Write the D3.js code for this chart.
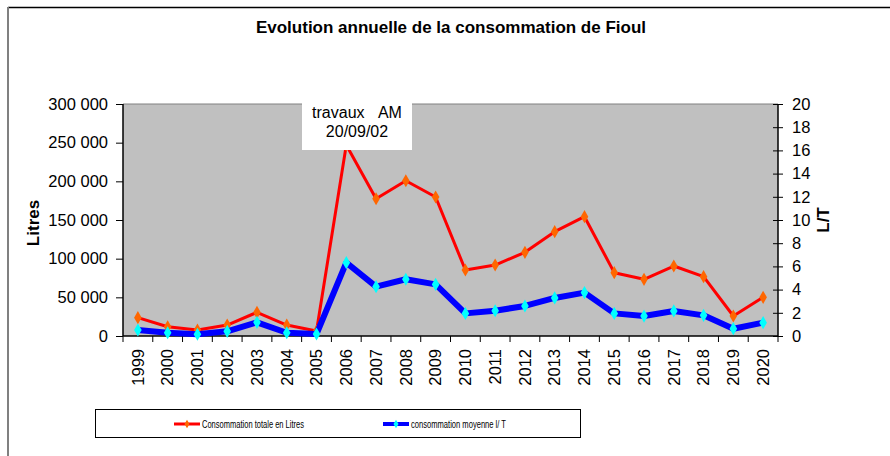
<!DOCTYPE html>
<html lang="fr">
<head>
<meta charset="UTF-8">
<title>Evolution annuelle de la consommation de Fioul</title>
<script src="https://d3js.org/d3.v7.min.js"></script>
<style>
    body { margin: 0; padding: 0; background: #fff; }
    svg { display: block; font-family: "Liberation Sans", Arial, sans-serif; }
    .tick-label { font-size: 16.5px; fill: #000; }
</style>
</head>
<body>
<svg width="890" height="456"></svg>
<script>
    // data
    const years = ["1999","2000","2001","2002","2003","2004","2005","2006","2007","2008","2009",
                   "2010","2011","2012","2013","2014","2015","2016","2017","2018","2019","2020"];
    const totalLitres = [23700, 12000, 7800, 14200, 30600, 14200, 6500, 247000, 177500, 200800, 179700,
                         85300, 91800, 108200, 134900, 154300, 81900, 73300, 90500, 76700, 25900, 50000];
    const moyenneLT = [0.52, 0.28, 0.15, 0.40, 1.18, 0.28, 0.17, 6.32, 4.25, 4.89, 4.45,
                       1.95, 2.18, 2.59, 3.28, 3.74, 1.95, 1.72, 2.16, 1.78, 0.63, 1.15];
    const leftTicks = [0, 50000, 100000, 150000, 200000, 250000, 300000];
    const rightTicks = d3.range(0, 21, 2);

    const svg = d3.select("svg");
    const margin = {left: 123, right: 778, top: 104, bottom: 336};

    // frame of the chart object
    svg.append("line").attr("x1", 8).attr("x2", 890).attr("y1", 7.5).attr("y2", 7.5)
        .attr("stroke", "#000").attr("stroke-width", 1.5);
    svg.append("line").attr("x1", 8).attr("x2", 8).attr("y1", 7).attr("y2", 456)
        .attr("stroke", "#808080").attr("stroke-width", 2);

    svg.append("text")
        .attr("x", 451).attr("y", 33)
        .attr("text-anchor", "middle")
        .style("font-weight", "bold").style("font-size", "17px")
        .text("Evolution annuelle de la consommation de Fioul");

    const x = d3.scaleBand().domain(years).range([margin.left, margin.right]);
    const yL = d3.scaleLinear().domain([0, 300000]).range([margin.bottom, margin.top]);
    const yR = d3.scaleLinear().domain([0, 20]).range([margin.bottom, margin.top]);

    // plot area
    svg.append("rect")
        .attr("x", margin.left).attr("y", margin.top)
        .attr("width", margin.right - margin.left).attr("height", margin.bottom - margin.top)
        .attr("fill", "#c0c0c0");
    svg.append("line").attr("x1", margin.left).attr("x2", margin.right)
        .attr("y1", margin.top).attr("y2", margin.top)
        .attr("stroke", "#808080").attr("stroke-width", 1);

    const fmt = v => d3.format(",")(v).replace(/,/g, " ");

    // left axis
    const gL = svg.append("g").attr("transform", `translate(${margin.left},0)`)
        .call(d3.axisLeft(yL).tickValues(leftTicks).tickFormat(fmt).tickSize(7).tickPadding(8));
    // right axis
    const gR = svg.append("g").attr("transform", `translate(${margin.right},0)`)
        .call(d3.axisRight(yR).tickValues(rightTicks).tickSize(5).tickPadding(9));
    gR.selectAll(".tick line").attr("x1", -5);
    // bottom axis with ticks on category boundaries
    const gB = svg.append("g").attr("transform", `translate(0,${margin.bottom})`)
        .call(d3.axisBottom(x).tickSize(0).tickPadding(0));
    gB.selectAll(".tick text")
        .attr("transform", "rotate(-90)")
        .attr("text-anchor", "end")
        .attr("x", -13).attr("y", 0).attr("dy", "0.35em");
    gB.selectAll(".bnd").data(d3.range(years.length + 1)).enter().append("line")
        .attr("class", "bnd")
        .attr("x1", i => margin.left + i * x.step()).attr("x2", i => margin.left + i * x.step())
        .attr("y1", 0).attr("y2", 6).attr("stroke", "#000");

    [gL, gR, gB].forEach(g => {
        g.select(".domain").attr("stroke", "#000").attr("stroke-width", 1.5);
        g.selectAll(".tick line").attr("stroke", "#000");
        g.selectAll(".tick text").attr("class", "tick-label").attr("fill", "#000")
            .style("font-family", "'Liberation Sans', Arial, sans-serif");
    });
    gL.select(".domain").attr("d", `M0,${margin.top}V${margin.bottom}`);
    gR.select(".domain").attr("d", `M0,${margin.top}V${margin.bottom}`);
    gB.select(".domain").attr("d", `M${margin.left},0H${margin.right}`);

    // axis titles
    svg.append("text")
        .attr("transform", `translate(39,223) rotate(-90)`)
        .attr("text-anchor", "middle")
        .style("font-weight", "bold").style("font-size", "17px")
        .text("Litres");
    svg.append("text")
        .attr("transform", `translate(829,220) rotate(-90)`)
        .attr("text-anchor", "middle")
        .style("font-weight", "bold").style("font-size", "17px")
        .text("L/T");

    const cx = d => x(d) + x.bandwidth() / 2;
    const diamond = d3.symbol().type(d3.symbolDiamond);

    // series: total litres (left axis)
    svg.append("path").datum(years)
        .attr("fill", "none").attr("stroke", "#ff0000").attr("stroke-width", 3)
        .attr("stroke-linejoin", "round")
        .attr("d", d3.line().x(cx).y((d, i) => yL(totalLitres[i])));
    svg.append("g").selectAll("path").data(years).enter().append("path")
        .attr("transform", (d, i) => `translate(${cx(d)},${yL(totalLitres[i])})`)
        .attr("d", diamond.size(50)())
        .attr("fill", "#ff6600");

    // series: average L/T (right axis)
    svg.append("path").datum(years)
        .attr("fill", "none").attr("stroke", "#0000ff").attr("stroke-width", 6)
        .attr("stroke-linejoin", "round")
        .attr("d", d3.line().x(cx).y((d, i) => yR(moyenneLT[i])));
    svg.append("g").selectAll("path").data(years).enter().append("path")
        .attr("transform", (d, i) => `translate(${cx(d)},${yR(moyenneLT[i])})`)
        .attr("d", diamond.size(50)())
        .attr("fill", "#00ffff");

    // annotation
    svg.append("rect").attr("x", 302).attr("y", 103).attr("width", 110).attr("height", 47)
        .attr("fill", "#fff");
    const ann = svg.append("text").attr("text-anchor", "middle").style("font-size", "16px");
    ann.append("tspan").attr("x", 357).attr("y", 118).text("travaux\u00a0\u00a0\u00a0AM");
    ann.append("tspan").attr("x", 357).attr("y", 137).text("20/09/02");

    // legend
    svg.append("rect").attr("x", 95.5).attr("y", 409.5).attr("width", 485).attr("height", 28)
        .attr("fill", "#fff").attr("stroke", "#000").attr("stroke-width", 1);
    const legend = [
        {label: "Consommation totale en Litres", color: "#ff0000", mark: "#ff6600", w: 3, x: 174, len: 102},
        {label: "consommation moyenne l/ T", color: "#0000ff", mark: "#00ffff", w: 4, x: 383, len: 95}
    ];
    const lg = svg.append("g").selectAll("g").data(legend).enter().append("g")
        .attr("transform", d => `translate(${d.x},424)`);
    lg.append("line").attr("x1", 0).attr("x2", 26)
        .attr("stroke", d => d.color).attr("stroke-width", d => d.w);
    lg.append("path").attr("transform", "translate(13,0)")
        .attr("d", diamond.size(22)()).attr("fill", d => d.mark);
    lg.append("text").attr("x", 28).attr("dy", "0.35em")
        .style("font-size", "11.5px")
        .attr("textLength", d => d.len).attr("lengthAdjust", "spacingAndGlyphs")
        .text(d => d.label);
</script>
</body>
</html>
